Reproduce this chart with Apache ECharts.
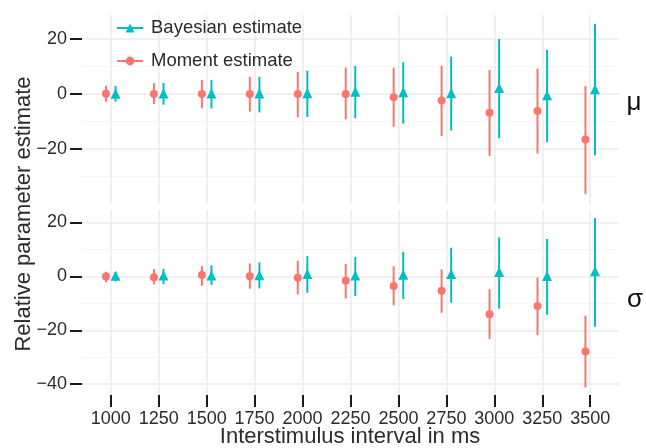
<!DOCTYPE html>
<html><head><meta charset="utf-8">
<script src="https://cdn.jsdelivr.net/npm/echarts@6/dist/echarts.min.js"></script>
<style>html,body{margin:0;padding:0;background:#fff}#c{width:646px;height:448px}</style>
</head><body><div id="c"></div>
<script>
// ---- data ----
const intervals = [1000, 1250, 1500, 1750, 2000, 2250, 2500, 2750, 3000, 3250, 3500];
const xTicks = [1000, 1250, 1500, 1750, 2000, 2250, 2500, 2750, 3000, 3250, 3500];
const muTicks = [-20, 0, 20];
const muMinorTicks = [-30, -10, 10];
const sigmaTicks = [-40, -20, 0, 20];
const sigmaMinorTicks = [-30, -10, 10];
const dodge = 25;

const muMomentEst  = [0.1, 0, 0, 0, 0, 0, -1.2, -2.4, -6.8, -6.2, -16.6];
const muMomentLow  = [-2.8, -3.7, -5.2, -6.4, -8.5, -9.2, -12.0, -15.3, -22.5, -21.7, -36.4];
const muMomentHigh = [3.0, 3.9, 5.1, 6.2, 8.0, 9.6, 9.5, 10.2, 8.7, 9.2, 2.9];

const muBayesEst  = [0.1, 0.2, 0.2, 0.2, 0.3, 0.8, 0.6, 0.3, 2.2, -0.5, 1.7];
const muBayesLow  = [-2.8, -3.9, -5.3, -6.7, -8.4, -8.8, -10.8, -13.3, -16.1, -17.5, -22.3];
const muBayesHigh = [2.9, 4.0, 5.1, 6.2, 8.5, 10.2, 11.5, 13.6, 20.0, 16.0, 25.5];

const sigmaMomentEst  = [-0.1, -0.3, 0.5, 0, -0.5, -1.6, -3.6, -5.3, -14.1, -11.0, -27.9];
const sigmaMomentLow  = [-2.2, -3.0, -3.5, -4.6, -6.7, -8.2, -10.7, -13.5, -23.3, -21.8, -41.2];
const sigmaMomentHigh = [1.7, 2.7, 3.8, 4.8, 5.8, 4.6, 3.7, 2.6, -4.8, -0.4, -14.6];

const sigmaBayesEst  = [0.2, 0.3, 0.3, 0.4, 0.9, 0.3, 0.6, 0.9, 1.6, 0.1, 1.9];
const sigmaBayesLow  = [-1.9, -2.9, -3.2, -4.5, -6.1, -7.3, -8.4, -9.8, -12.0, -14.3, -18.7];
const sigmaBayesHigh = [1.6, 2.8, 4.1, 5.2, 7.5, 7.2, 9.1, 10.6, 14.5, 13.9, 21.6];

// ---- styles ----
const RED = '#F8766D', TEAL = '#00BFC4';
const FONT = '"Liberation Sans", Arial, Helvetica, sans-serif';
const TXT = '#2b2b2b';
const TICK = '#1a1a1a';
const fmtMinus = v => String(v).replace('-', '\u2212');

function errData(offset, low, high) {
  return intervals.map((x, i) => [x + offset, low[i], high[i]]);
}
function ptData(offset, est) {
  return intervals.map((x, i) => [x + offset, est[i]]);
}
function errSeries(name, color, grid, offset, low, high) {
  return {
    type: 'custom', name: name + ' interval', xAxisIndex: grid, yAxisIndex: grid * 2,
    data: errData(offset, low, high), z: 2, silent: true,
    renderItem: function (params, api) {
      const p1 = api.coord([api.value(0), api.value(1)]);
      const p2 = api.coord([api.value(0), api.value(2)]);
      return { type: 'line', shape: { x1: p1[0], y1: p1[1], x2: p2[0], y2: p2[1] },
               style: { stroke: color, lineWidth: 2 } };
    }
  };
}
function ptSeries(name, color, grid, offset, est, symbol, size) {
  return {
    type: 'line', name: name, xAxisIndex: grid, yAxisIndex: grid * 2,
    data: ptData(offset, est), symbol: symbol, symbolSize: size, showSymbol: true,
    lineStyle: { opacity: 0, width: 2, color: color }, itemStyle: { color: color, opacity: 1 },
    z: 3, silent: true, animation: false
  };
}

const xBase = (grid, showLabels) => ({
  type: 'value', gridIndex: grid, min: 850, max: 3650,
  axisLine: { show: false, onZero: false },
  axisTick: { show: showLabels, customValues: xTicks, length: 12, lineStyle: { color: TICK, width: 2 } },
  axisLabel: { show: showLabels, customValues: xTicks, fontSize: 18, color: TXT, fontFamily: FONT, margin: 15,
               formatter: v => String(v) },
  splitLine: { show: true, lineStyle: { color: '#ebebeb', width: 1.5 } }
});
const yMajor = (grid, min, max, ticks) => ({
  type: 'value', gridIndex: grid, min: min, max: max, position: 'left',
  axisLine: { show: false, onZero: false },
  axisTick: { show: true, customValues: ticks, length: 12, lineStyle: { color: TICK, width: 2 } },
  axisLabel: { customValues: ticks, fontSize: 18, color: TXT, fontFamily: FONT, margin: 15, formatter: fmtMinus },
  splitLine: { show: true, lineStyle: { color: '#ebebeb', width: 1.5 } }
});
const yMinor = (grid, min, max, ticks) => ({
  type: 'value', gridIndex: grid, min: min, max: max, position: 'right',
  axisLine: { show: false, onZero: false },
  axisTick: { show: false, customValues: ticks },
  axisLabel: { show: false, customValues: ticks },
  splitLine: { show: true, lineStyle: { color: '#f5f5f5', width: 1 } }
});

const option = {
  animation: false,
  backgroundColor: '#fff',
  grid: [
    { left: 82, right: 27, top: 15, height: 189 },
    { left: 82, right: 27, top: 210, height: 185 }
  ],
  xAxis: [xBase(0, false), xBase(1, true)],
  yAxis: [
    yMajor(0, -40, 28.7, muTicks), yMinor(0, -40, 28.7, muMinorTicks),
    yMajor(1, -44, 24.6, sigmaTicks), yMinor(1, -44, 24.6, sigmaMinorTicks)
  ],
  legend: {
    orient: 'vertical', left: 111, top: 13, itemWidth: 26, itemHeight: 11, itemGap: 13,
    itemStyle: { opacity: 1 },
    lineStyle: { opacity: 1, width: 2 },
    textStyle: { fontSize: 18.5, color: TXT, fontFamily: FONT, lineHeight: 20, padding: [0, 0, 0, 3] },
    data: ['Bayesian estimate', 'Moment estimate'],
    selectedMode: false
  },
  series: [
    errSeries('Moment estimate', RED, 0, -dodge, muMomentLow, muMomentHigh),
    errSeries('Bayesian estimate', TEAL, 0, dodge, muBayesLow, muBayesHigh),
    ptSeries('Moment estimate', RED, 0, -dodge, muMomentEst, 'circle', 8),
    ptSeries('Bayesian estimate', TEAL, 0, dodge, muBayesEst, 'triangle', 10),
    errSeries('Moment estimate', RED, 1, -dodge, sigmaMomentLow, sigmaMomentHigh),
    errSeries('Bayesian estimate', TEAL, 1, dodge, sigmaBayesLow, sigmaBayesHigh),
    ptSeries('Moment estimate', RED, 1, -dodge, sigmaMomentEst, 'circle', 8),
    ptSeries('Bayesian estimate', TEAL, 1, dodge, sigmaBayesEst, 'triangle', 10)
  ],
  graphic: [
    { type: 'text', x: 24, y: 214, rotation: Math.PI / 2,
      style: { text: 'Relative parameter estimate', fontSize: 22, fill: TXT, fontFamily: FONT,
               align: 'center', verticalAlign: 'middle' } },
    { type: 'text', x: 350, y: 437,
      style: { text: 'Interstimulus interval in ms', fontSize: 22, fill: TXT, fontFamily: FONT,
               align: 'center', verticalAlign: 'middle' } },
    { type: 'text', x: 634, y: 103,
      style: { text: 'μ', fontSize: 26, fill: '#111', fontFamily: FONT, align: 'center', verticalAlign: 'middle' } },
    { type: 'text', x: 635, y: 300,
      style: { text: 'σ', fontSize: 26, fill: '#111', fontFamily: FONT, align: 'center', verticalAlign: 'middle' } }
  ]
};

const chart = echarts.init(document.getElementById('c'), null, { renderer: 'canvas' });
chart.setOption(option);
</script>
</body></html>
